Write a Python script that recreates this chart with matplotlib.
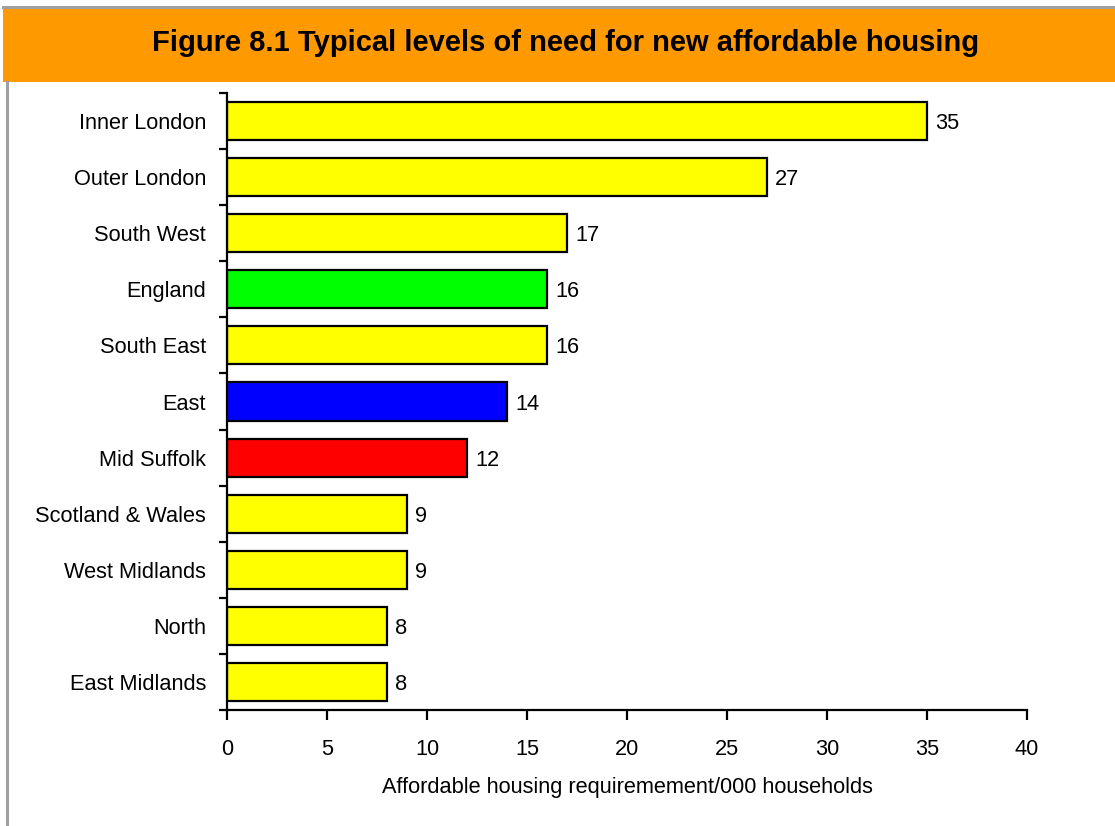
import matplotlib
matplotlib.use('Agg')
import matplotlib.pyplot as plt
from matplotlib.patches import Rectangle
import numpy as np

plt.rcParams['font.family'] = ['Liberation Sans', 'DejaVu Sans']

# data, top to bottom as in the figure
regions = ['Inner London', 'Outer London', 'South West', 'England', 'South East',
           'East', 'Mid Suffolk', 'Scotland & Wales', 'West Midlands', 'North',
           'East Midlands']
need = [35, 27, 17, 16, 16, 14, 12, 9, 9, 8, 8]
bar_colors = ['#FFFF00', '#FFFF00', '#FFFF00', '#00FF00', '#FFFF00',
              '#0000FF', '#FF0000', '#FFFF00', '#FFFF00', '#FFFF00', '#FFFF00']
xticks = [0, 5, 10, 15, 20, 25, 30, 35, 40]

title = 'Figure 8.1 Typical levels of need for new affordable housing'
xlabel = 'Affordable housing requiremement/000 households'

fs = 15.7

fig = plt.figure(figsize=(11.15, 8.26), dpi=100)

# orange header band and grey frame
fig.patches.append(Rectangle((3/1115, 1 - 82/826), 1112/1115, 74/826,
                             transform=fig.transFigure, facecolor='#FF9900',
                             edgecolor='none', zorder=0))
fig.lines.append(plt.Line2D([7/1115, 7/1115], [0, 1 - 82/826], transform=fig.transFigure,
                            color='#A0A0A0', lw=2.2))
fig.lines.append(plt.Line2D([3/1115, 1], [1 - 7/826, 1 - 7/826], transform=fig.transFigure,
                            color='#A0A0A0', lw=2.2))
fig.text(566/1115, 1 - 43/826, title, ha='center', va='center',
         fontsize=21, fontweight='bold', color='black')

ax = fig.add_axes([227/1115, 1 - 710/826, 800/1115, 617/826])
y = np.arange(len(regions))
ax.barh(y, need, height=0.68, color=bar_colors, edgecolor='black', linewidth=1.6, zorder=2)
for yi, v in zip(y, need):
    ax.text(v + 0.4, yi, str(v), va='center_baseline', ha='left', fontsize=fs)

ax.set_ylim(len(regions) - 0.5, -0.5)
ax.set_xlim(0, 40)
ax.set_xticks(xticks)
ax.set_xticklabels([str(t) for t in xticks], fontsize=fs)
ax.set_yticks(y)
ax.set_yticklabels(regions, fontsize=fs)
ax.tick_params(axis='y', length=0, pad=15)
ax.set_yticks(np.arange(len(regions) + 1) - 0.5, minor=True)
ax.tick_params(axis='y', which='minor', length=6, width=1.6, direction='out')
ax.tick_params(axis='x', length=7, width=1.6, direction='out', pad=14)

for s in ['top', 'right']:
    ax.spines[s].set_visible(False)
for s in ['left', 'bottom']:
    ax.spines[s].set_linewidth(1.6)

ax.set_xlabel(xlabel, fontsize=fs, labelpad=12)

fig.savefig('out.png', dpi=100)
